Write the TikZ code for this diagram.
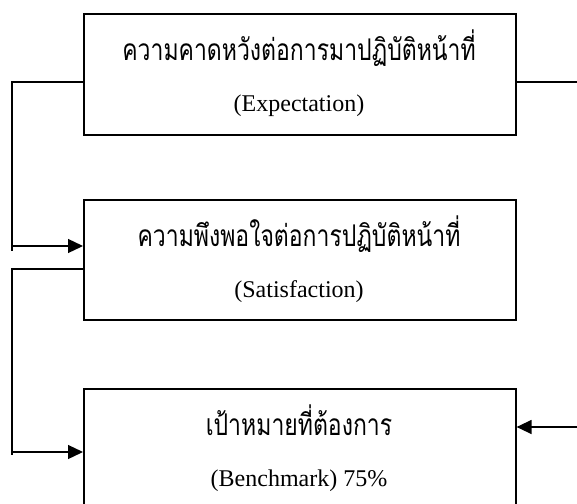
\documentclass[tikz,border=0pt]{standalone}
\usepackage{fontspec}
\setmainfont{Liberation Serif}
\newfontfamily\thaifont[Script=Thai]{Loma}
\usetikzlibrary{arrows.meta}
\newcommand{\thaitext}[1]{\scalebox{1}[1.3]{#1}}
\tikzset{
  box/.style={draw, line width=1.6pt, anchor=north west, minimum width=432pt, minimum height=120pt, inner sep=0pt},
  thai/.style={anchor=base, inner sep=0pt, font=\thaifont\fontsize{23}{27}\selectfont},
  eng/.style={anchor=base, inner sep=0pt, font=\fontsize{24}{28}\selectfont},
  conn/.style={line width=1.3pt},
  arr/.style={line width=1.3pt, -{Triangle[length=15pt,width=14pt]}}
}
\begin{document}
\begin{tikzpicture}[x=1pt,y=-1pt]
\useasboundingbox (0,0) rectangle (577,503);
\node[box, minimum height=121pt] (b1) at (83,13) {};
\node[box] (b2) at (83,199) {};
\node[box] (b3) at (83,388) {};
\node[thai] (t1) at (299,60) {\thaitext{ความคาดหวังต่อการมาปฏิบัติหน้าที่}};
\node[eng] (e1) at (299,111) {(Expectation)};
\node[thai] (t2) at (299,246) {\thaitext{ความพึงพอใจต่อการปฏิบัติหน้าที่}};
\node[eng] (e2) at (299,297) {(Satisfaction)};
\node[thai] (t3) at (299,435) {\thaitext{เป้าหมายที่ต้องการ}};
\node[eng] (e3) at (299,486) {(Benchmark) 75\%};
\coordinate (l1) at (12,82);
\coordinate (l1e) at (12,251);
\coordinate (l1a) at (12,246);
\coordinate (l2) at (12,269);
\coordinate (l2e) at (12,455);
\coordinate (l2a) at (12,452);
\coordinate (r1) at (577,82);
\coordinate (r2) at (577,427);
\draw[conn] (b1.west |- l1) -- (l1) -- (l1e);
\draw[arr] (l1a) -- (b2.west |- l1a);
\draw[conn] (b2.west |- l2) -- (l2) -- (l2e);
\draw[arr] (l2a) -- (b3.west |- l2a);
\draw[conn] (b1.east |- r1) -- (r1);
\draw[arr] (r2) -- (b3.east |- r2);
\end{tikzpicture}
\end{document}
